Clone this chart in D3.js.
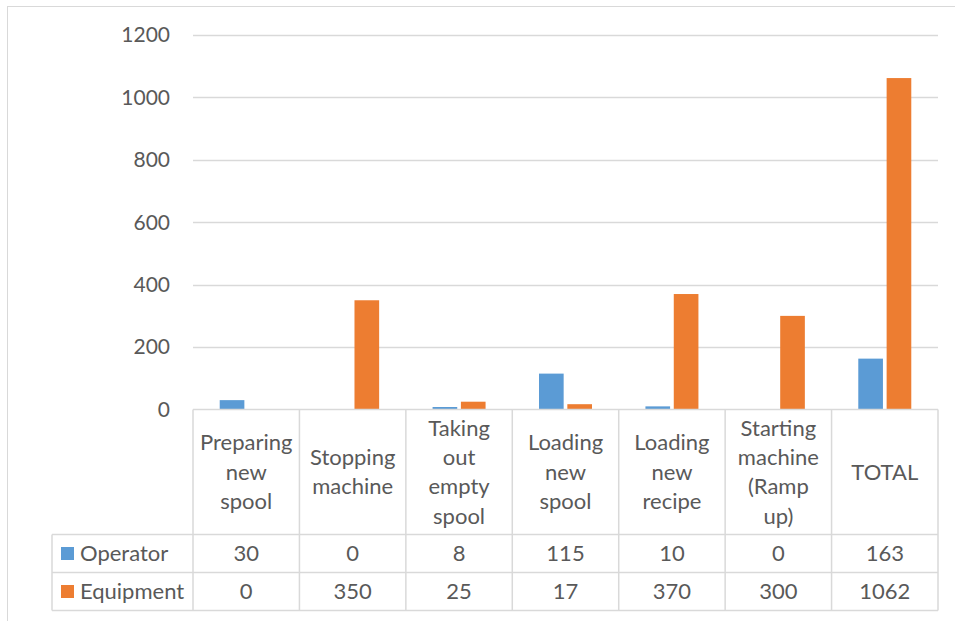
<!DOCTYPE html>
<html><head><meta charset="utf-8">
<script src="https://cdn.jsdelivr.net/npm/d3@7"></script>
<style>body{margin:0;background:#fff}svg text{font-family:Lato,"Open Sans",sans-serif;fill:#595959}</style>
</head><body><svg id="c" width="955" height="621"></svg>
<script>
const categories = [["Preparing","new","spool"],["Stopping","machine"],["Taking","out","empty","spool"],["Loading","new","spool"],["Loading","new","recipe"],["Starting","machine","(Ramp","up)"],["TOTAL"]];
const seriesNames = ["Operator","Equipment"];
const operator = [30,0,8,115,10,0,163];
const equipment = [0,350,25,17,370,300,1062];
const yTicks = [0,200,400,600,800,1000,1200];
const colors = ["#5B9BD5","#ED7D31"];
const values = [operator, equipment];

const svg = d3.select("#c");
const grid = "#D9D9D9";
const L = 193, R = 938, T = 35, B = 409.5;
const x = d3.scaleBand().domain(d3.range(categories.length)).range([L,R]);
const y = d3.scaleLinear().domain([0,1200]).range([B,T]);
const xs = d3.scaleBand().domain([0,1]).range([0,53]).paddingInner(0.13);
const fs = 22;

// frame
svg.append("line").attr("x1",7).attr("x2",955).attr("y1",6.5).attr("y2",6.5).attr("stroke",grid);
svg.append("line").attr("x1",7.5).attr("x2",7.5).attr("y1",6).attr("y2",621).attr("stroke",grid);

// gridlines
svg.append("g").selectAll("line").data(yTicks.filter(d=>d>0)).join("line")
  .attr("x1",L).attr("x2",R).attr("y1",d=>Math.round(y(d))+0.5).attr("y2",d=>Math.round(y(d))+0.5)
  .attr("stroke",grid).attr("stroke-width",1.3);
svg.append("g").selectAll("text").data(yTicks).join("text")
  .attr("x",170).attr("y",d=>y(d)).attr("dy","0.35em").attr("text-anchor","end")
  .attr("font-size",21).text(d=>d);

// bars
values.forEach((vals,si)=>{
  svg.append("g").selectAll("rect").data(vals).join("rect")
    .attr("x",(d,i)=>x(i)+x.bandwidth()/2-26.5+xs(si))
    .attr("width",xs.bandwidth())
    .attr("y",d=>y(d)).attr("height",d=>B-y(d))
    .attr("fill",colors[si]);
});

// data table
const rowTop = [409.5, 534.5, 572.5, 610.5];
const tg = svg.append("g").attr("stroke",grid).attr("stroke-width",1.5);
tg.append("line").attr("x1",L).attr("x2",R).attr("y1",rowTop[0]).attr("y2",rowTop[0]);
[1,2,3].forEach(r=>tg.append("line").attr("x1",52).attr("x2",R).attr("y1",rowTop[r]).attr("y2",rowTop[r]));
d3.range(categories.length+1).forEach(i=>{
  const xx = i<categories.length ? x(i) : R;
  tg.append("line").attr("x1",xx).attr("x2",xx).attr("y1",rowTop[0]).attr("y2",rowTop[3]);
});
tg.append("line").attr("x1",52).attr("x2",52).attr("y1",rowTop[1]).attr("y2",rowTop[3]);

// header labels
const lh = 29.3;
categories.forEach((lines,i)=>{
  const cy = (rowTop[0]+rowTop[1])/2;
  const t = svg.append("text").attr("text-anchor","middle").attr("font-size",fs);
  lines.forEach((ln,j)=>{
    t.append("tspan").attr("x",x(i)+x.bandwidth()/2)
     .attr("y",cy+(j-(lines.length-1)/2)*lh).attr("dy","0.35em").text(ln);
  });
});
// value rows
values.forEach((vals,si)=>{
  const cy = (rowTop[si+1]+rowTop[si+2])/2;
  svg.append("g").selectAll("text").data(vals).join("text")
    .attr("x",(d,i)=>x(i)+x.bandwidth()/2).attr("y",cy).attr("dy","0.35em")
    .attr("text-anchor","middle").attr("font-size",fs).text(d=>d);
  svg.append("rect").attr("x",61).attr("y",cy-6.5).attr("width",13).attr("height",13).attr("fill",colors[si]);
  svg.append("text").attr("x",80).attr("y",cy).attr("dy","0.35em").attr("font-size",fs).text(seriesNames[si]);
});
</script></body></html>
